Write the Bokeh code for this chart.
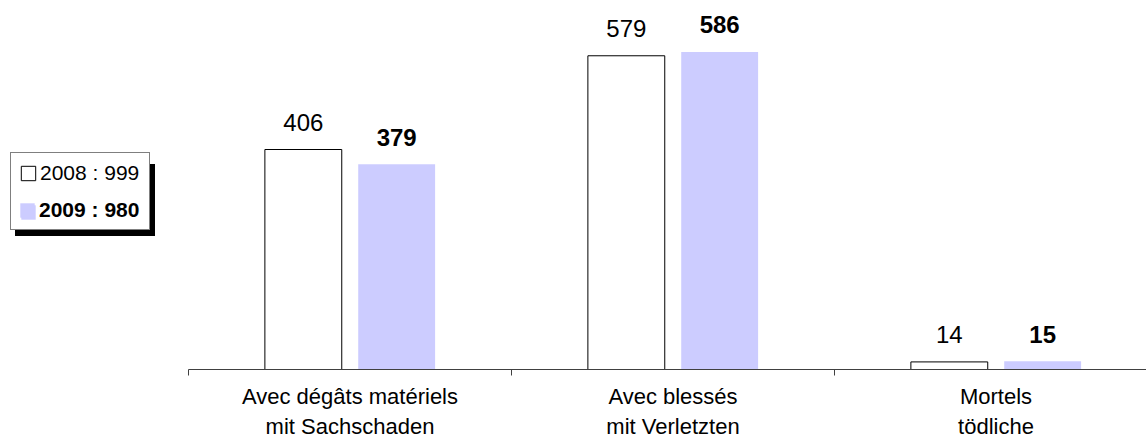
import numpy as np
from bokeh.plotting import figure
from bokeh.layouts import row
from bokeh.models import (Range1d, LinearAxis, FixedTicker, Legend, LegendItem)
from bokeh.core.properties import value
from bokeh.embed import file_html
from bokeh.resources import INLINE

# ---- data ----
categories = ["Avec dégâts matériels\nmit Sachschaden",
              "Avec blessés\nmit Verletzten",
              "Mortels\ntödliche"]
years = ["2008", "2009"]
values_2008 = [406, 579, 14]
values_2009 = [379, 586, 15]
totals = [999, 980]

# ---- style ----
FONT_NAME = "Liberation Sans"
FONT = value(FONT_NAME)
BLUE = "#CCCCFF"
AXIS_COL = "#404040"
H = 441
LEG_W = 188
MAIN_W = 958
BAR_W = 0.238
OFF = 0.1445
BOTTOM = 70

# ================= main chart =================
p = figure(width=MAIN_W, height=H, output_backend="svg", toolbar_location=None,
           x_range=Range1d(0, 2.966), y_range=Range1d(0, 681),
           x_axis_location=None, y_axis_location=None,
           min_border_left=0, min_border_right=0, min_border_top=0,
           min_border_bottom=BOTTOM)
p.outline_line_color = None
p.background_fill_color = "white"
p.border_fill_color = "white"
p.grid.visible = False

x_cat = np.arange(len(categories)) + 0.5

# axis line with boundary ticks
bounds = [float(i) for i in range(len(categories) + 1)]
axA = LinearAxis(ticker=FixedTicker(ticks=bounds),
                 major_tick_out=6, major_tick_in=0, minor_tick_out=0, minor_tick_in=0,
                 major_label_overrides={b: "" for b in bounds},
                 major_label_text_font_size="0px", major_label_standoff=0,
                 axis_line_color=AXIS_COL, major_tick_line_color=AXIS_COL,
                 axis_line_width=1)
p.add_layout(axA, "below")

# category labels
axB = LinearAxis(ticker=FixedTicker(ticks=[float(c) for c in x_cat]),
                 major_label_overrides={float(c): lab for c, lab in zip(x_cat, categories)},
                 axis_line_color=None, major_tick_line_color=None,
                 major_tick_out=0, major_tick_in=0, minor_tick_out=0, minor_tick_in=0,
                 major_label_standoff=8,
                 major_label_text_font=FONT_NAME, major_label_text_font_size="22px",
                 major_label_text_color="black", major_label_text_line_height=1.2)
p.add_layout(axB, "below")

r08 = p.vbar(x=x_cat - OFF, top=values_2008, width=BAR_W, bottom=0,
             fill_color="white", line_color="black", line_width=1)
r09 = p.vbar(x=x_cat + OFF, top=values_2009, width=BAR_W, bottom=0,
             fill_color=BLUE, line_color=None)

p.text(x=x_cat - OFF, y=values_2008, text=[str(v) for v in values_2008],
       text_align="center", text_baseline="alphabetic", y_offset=-27,
       text_font=FONT, text_font_size="24px", text_color="black")
p.text(x=x_cat + OFF, y=values_2009, text=[str(v) for v in values_2009],
       text_align="center", text_baseline="alphabetic", y_offset=-27,
       text_font=FONT, text_font_size="24px", text_font_style="bold",
       text_color="black")

# ================= legend panel =================
q = figure(width=LEG_W, height=H, output_backend="svg", toolbar_location=None,
           x_range=Range1d(0, LEG_W), y_range=Range1d(0, H - BOTTOM),
           x_axis_location=None, y_axis_location=None,
           min_border_left=0, min_border_right=0, min_border_top=0,
           min_border_bottom=BOTTOM)
q.outline_line_color = None
q.background_fill_color = "white"
q.border_fill_color = "white"
q.grid.visible = False

# legend-only renderers (no visible data)
k08 = q.vbar(x=[np.nan], top=[np.nan], width=1, fill_color="white",
             line_color="black", line_width=1)
k09 = q.vbar(x=[np.nan], top=[np.nan], width=1, fill_color=BLUE, line_color=None)
kS = q.vbar(x=[np.nan], top=[np.nan], width=1, fill_color="black", line_color="black")

LOC = (10, 139)   # bottom-left of legend box, relative to frame bottom-left
common = dict(padding=8, spacing=18, glyph_width=18, glyph_height=18,
              label_height=18, label_standoff=3, label_width=101, margin=0,
              label_text_font=FONT_NAME, label_text_font_size="21px",
              label_text_color="black", border_line_width=1)

labels = [f"{y} : {t}" for y, t in zip(years, totals)]

legS = Legend(items=[LegendItem(label=" ", renderers=[kS]),
                     LegendItem(label=" ", renderers=[kS])],
              location=(LOC[0] + 5, LOC[1] - 6), background_fill_color="black",
              background_fill_alpha=1, border_line_color="black", **common)
legM = Legend(items=[LegendItem(label=labels[0], renderers=[k08]),
                     LegendItem(label=" ", renderers=[k09])],
              location=LOC, background_fill_color="white", background_fill_alpha=1,
              border_line_color="black", **common)
legB = Legend(items=[LegendItem(label=labels[1], renderers=[k09])],
              location=LOC, background_fill_alpha=0, border_line_color="black",
              border_line_alpha=0, label_text_font_style="bold", **common)
q.add_layout(legS, "center")
q.add_layout(legM, "center")
q.add_layout(legB, "center")

layout = row(q, p, spacing=0)
open("out.html", "w").write(file_html(layout, INLINE))
